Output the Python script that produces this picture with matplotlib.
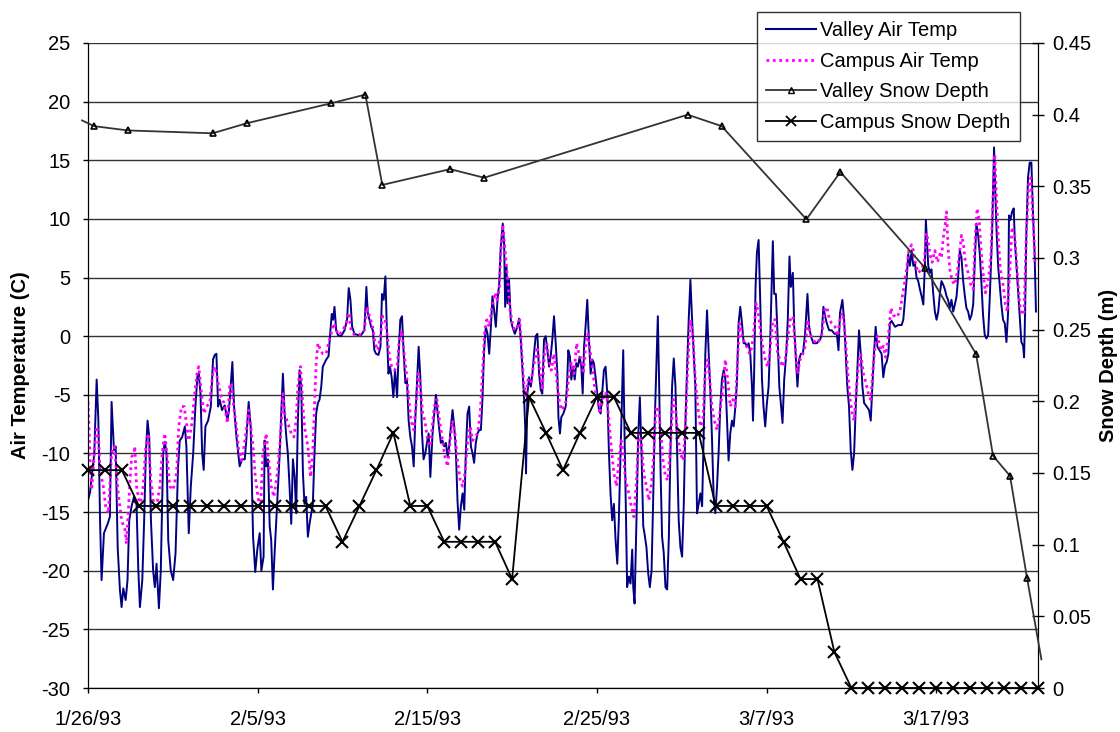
import datetime as dt
import matplotlib
matplotlib.use("Agg")
import matplotlib.pyplot as plt
import matplotlib.dates as mdates
from matplotlib.lines import Line2D
import numpy as np

plt.rcParams['font.family'] = ['Liberation Sans', 'DejaVu Sans']
plt.rcParams['axes.unicode_minus'] = False

# days since 1/26/93, hourly-ish record read as turning points
valley_day = [
    0.00, 0.12, 0.37, 0.51, 0.61, 0.71, 0.80, 0.94, 1.16, 1.29, 1.39, 1.53, 1.63, 1.75, 1.88, 1.98,
    2.08, 2.22, 2.33, 2.43, 2.57, 2.71, 2.86, 2.96, 3.06, 3.20, 3.31, 3.41, 3.51, 3.61, 3.71, 3.84,
    3.94, 4.04, 4.18, 4.29, 4.43, 4.53, 4.63, 4.73, 4.88, 5.02, 5.16, 5.31, 5.41, 5.55, 5.71, 5.80,
    5.94, 6.06, 6.20, 6.33, 6.45, 6.53, 6.63, 6.73, 6.82, 6.92, 7.08, 7.24, 7.37, 7.47, 7.57, 7.67,
    7.76, 7.90, 8.06, 8.22, 8.31, 8.41, 8.51, 8.61, 8.75, 8.94, 9.08, 9.24, 9.33, 9.47, 9.59, 9.73,
    9.86, 9.98, 10.12, 10.22, 10.35, 10.41, 10.51, 10.61, 10.71, 10.80, 10.90, 11.00, 11.16, 11.30,
    11.39, 11.49, 11.59, 11.69, 11.78, 11.88, 11.98, 12.08, 12.18, 12.27, 12.37, 12.47, 12.57, 12.67,
    12.76, 12.86, 12.96, 13.06, 13.16, 13.25, 13.35, 13.45, 13.55, 13.65, 13.75, 13.84, 14.04, 14.18,
    14.29, 14.37, 14.45, 14.53, 14.63, 14.73, 14.92, 15.12, 15.27, 15.37, 15.47, 15.57, 15.71, 15.90,
    16.10, 16.29, 16.41, 16.49, 16.59, 16.69, 16.79, 16.88, 16.98, 17.12, 17.24, 17.33, 17.43, 17.53,
    17.63, 17.71, 17.80, 17.90, 18.00, 18.10, 18.22, 18.31, 18.41, 18.51, 18.61, 18.71, 18.80, 18.90,
    19.00, 19.10, 19.20, 19.29, 19.39, 19.49, 19.59, 19.69, 19.78, 19.88, 19.98, 20.08, 20.18, 20.31,
    20.51, 20.61, 20.71, 20.80, 20.90, 21.00, 21.10, 21.20, 21.29, 21.39, 21.49, 21.59, 21.69, 21.78,
    21.88, 21.98, 22.08, 22.18, 22.27, 22.37, 22.47, 22.57, 22.67, 22.76, 22.86, 22.96, 23.06, 23.16,
    23.25, 23.35, 23.45, 23.55, 23.65, 23.75, 23.84, 23.94, 24.04, 24.14, 24.24, 24.33, 24.45, 24.53,
    24.59, 24.67, 24.73, 24.82, 24.92, 25.02, 25.16, 25.31, 25.41, 25.51, 25.61, 25.71, 25.77, 25.82,
    25.90, 26.00, 26.10, 26.20, 26.29, 26.39, 26.49, 26.59, 26.69, 26.78, 26.88, 26.98, 27.08, 27.18,
    27.27, 27.37, 27.47, 27.57, 27.67, 27.73, 27.82, 27.90, 28.02, 28.16, 28.25, 28.31, 28.41, 28.49,
    28.59, 28.69, 28.78, 28.88, 28.98, 29.08, 29.16, 29.24, 29.33, 29.43, 29.53, 29.63, 29.73, 29.82,
    29.92, 30.02, 30.12, 30.22, 30.41, 30.51, 30.61, 30.71, 30.80, 30.90, 31.00, 31.10, 31.20, 31.29,
    31.39, 31.49, 31.55, 31.63, 31.71, 31.78, 31.88, 31.98, 32.08, 32.14, 32.22, 32.33, 32.43, 32.53,
    32.63, 32.73, 32.80, 32.92, 33.02, 33.12, 33.22, 33.31, 33.41, 33.51, 33.59, 33.67, 33.75, 33.84,
    33.94, 34.04, 34.14, 34.24, 34.33, 34.43, 34.53, 34.63, 34.73, 34.82, 34.92, 35.02, 35.12, 35.22,
    35.31, 35.41, 35.51, 35.61, 35.71, 35.80, 35.90, 36.00, 36.10, 36.20, 36.29, 36.39, 36.49, 36.59,
    36.69, 36.78, 36.88, 36.98, 37.08, 37.18, 37.27, 37.37, 37.47, 37.57, 37.67, 37.76, 37.86, 37.96,
    38.06, 38.16, 38.25, 38.35, 38.45, 38.55, 38.65, 38.75, 38.84, 38.94, 39.04, 39.14, 39.20, 39.27,
    39.35, 39.43, 39.53, 39.63, 39.73, 39.82, 39.92, 40.02, 40.12, 40.22, 40.31, 40.37, 40.45, 40.55,
    40.65, 40.75, 40.84, 40.94, 41.04, 41.16, 41.25, 41.35, 41.43, 41.55, 41.63, 41.73, 41.82, 41.92,
    42.02, 42.14, 42.27, 42.41, 42.51, 42.61, 42.76, 42.96, 43.16, 43.25, 43.35, 43.45, 43.55, 43.69,
    43.84, 44.00, 44.14, 44.24, 44.33, 44.47, 44.57, 44.67, 44.76, 44.86, 44.96, 45.06, 45.16, 45.25,
    45.35, 45.45, 45.55, 45.65, 45.75, 45.90, 46.04, 46.14, 46.24, 46.33, 46.43, 46.53, 46.78, 46.88,
    46.98, 47.08, 47.18, 47.27, 47.37, 47.57, 47.76, 47.96, 48.06, 48.16, 48.25, 48.35, 48.45, 48.55,
    48.65, 48.74, 48.84, 48.94, 49.04, 49.14, 49.24, 49.33, 49.39, 49.47, 49.53, 49.63, 49.72, 49.82,
    49.92, 50.02, 50.12, 50.22, 50.31, 50.41, 50.51, 50.61, 50.70, 50.80, 50.90, 51.00, 51.10, 51.20,
    51.29, 51.39, 51.49, 51.59, 51.69, 51.78, 51.88, 51.98, 52.08, 52.18, 52.27, 52.37, 52.47, 52.57,
    52.67, 52.76, 52.86, 52.96, 53.06, 53.16, 53.29, 53.41, 53.49, 53.57, 53.65, 53.74, 53.84, 53.94,
    54.04, 54.14, 54.24, 54.29, 54.37, 54.47, 54.57, 54.63, 54.73, 54.82, 54.92, 55.02, 55.12, 55.18,
    55.24, 55.31, 55.41, 55.51, 55.61, 55.71, 55.80, 55.88,
]
valley_temp = [
    -14.0, -13.3, -10.0, -3.7, -7.1, -15.7, -20.8, -16.8, -16.0, -15.4, -5.6, -9.7, -9.4, -18.0, -21.6, -23.1,
    -21.5, -22.5, -20.8, -15.7, -14.5, -13.7, -14.3, -19.7, -23.1, -20.8, -15.7, -10.0, -7.2, -8.6, -15.7, -20.0,
    -21.4, -19.4, -23.2, -20.0, -10.0, -9.0, -10.0, -17.4, -20.0, -20.8, -18.5, -11.1, -8.9, -8.6, -7.7, -9.4,
    -16.8, -12.8, -10.0, -6.0, -3.4, -3.2, -4.9, -10.0, -11.4, -7.7, -7.2, -6.0, -2.0, -1.6, -1.5, -6.0,
    -5.4, -6.3, -5.9, -7.2, -6.3, -4.3, -2.2, -6.0, -8.6, -11.1, -10.5, -10.5, -8.9, -5.6, -7.7, -17.1,
    -20.1, -18.2, -16.8, -20.0, -18.8, -8.9, -11.1, -10.5, -16.2, -17.4, -21.6, -18.5, -14.0, -10.0,
    -6.6, -3.2, -6.6, -8.6, -10.0, -12.8, -16.0, -10.5, -12.0, -15.1, -7.2, -2.9, -4.3, -11.7,
    -14.3, -13.7, -17.1, -16.0, -15.1, -14.5, -10.0, -6.6, -5.7, -5.4, -4.3, -2.6, -2.0, -1.7,
    0.5, 1.9, 1.4, 2.5, 0.5, 0.1, 0.0, 0.5, 1.4, 4.1, 3.1, 0.8, 0.2, 0.1,
    0.1, 0.5, 4.2, 2.0, 1.4, 0.8, 0.5, -1.2, -1.5, -1.6, -0.9, 3.6, 3.1, 5.1,
    0.0, -3.2, -2.6, -3.5, -5.2, -2.9, -5.2, -1.5, 1.4, 1.7, -1.5, -4.0, -3.7, -7.2,
    -8.6, -9.4, -11.1, -7.2, -4.0, -0.9, -3.5, -8.3, -10.5, -10.0, -9.1, -8.3, -12.0, -8.3,
    -5.0, -6.6, -8.0, -9.1, -8.9, -9.4, -9.1, -10.3, -9.4, -7.7, -6.3, -7.7, -10.0, -14.0,
    -16.5, -14.5, -13.4, -14.8, -10.0, -6.6, -6.0, -9.4, -10.0, -10.8, -9.1, -8.3, -8.0, -8.0,
    -5.4, -1.2, 0.8, 0.2, -1.5, 0.8, 3.4, 2.2, 0.8, 3.1, 4.5, 7.6, 9.6, 7.9,
    2.5, 5.9, 2.8, 4.8, 1.4, 0.8, 0.2, 0.8, 1.5, -0.3, -2.9, -5.4, -7.7, -11.7,
    -4.9, -3.5, -4.3, -3.2, -1.5, 0.0, 0.2, -3.2, -4.6, -4.9, -0.3, 0.0, -1.2, -2.6,
    -1.75, -0.3, 1.7, -0.6, -3.2, -6.9, -8.3, -6.9, -6.6, -6.0, -3.7, -1.2, -1.75, -3.7,
    -2.6, -3.7, -2.3, -2.6, -1.75, -2.6, -4.9, -0.9, 0.8, 3.1, -0.3, -3.2, -2.0, -2.3,
    -3.5, -4.9, -6.3, -6.6, -2.9, -2.6, -4.9, -10.0, -13.4, -15.7, -14.3, -17.4, -19.4, -15.7,
    -10.0, -4.3, -1.2, -8.6, -15.1, -21.4, -20.5, -21.1, -18.2, -21.4, -22.8, -15.7, -8.6, -5.2,
    -10.0, -16.2, -16.8, -18.0, -20.2, -21.4, -20.0, -14.3, -7.2, -2.3, 1.7, -4.3, -11.4, -17.1,
    -18.5, -21.4, -21.6, -17.1, -10.0, -4.3, -1.9, -4.3, -10.0, -15.7, -18.0, -18.8, -14.3, -7.2,
    -2.9, 1.4, 4.8, 1.4, -1.5, -4.3, -15.1, -14.3, -13.4, -14.5, -8.6, -1.5, 2.2, -1.5,
    -4.9, -8.6, -13.7, -15.1, -12.8, -9.7, -6.0, -3.7, -2.9, -3.7, -7.2, -10.6, -8.3, -7.2,
    -7.7, -6.0, -4.0, 1.1, 2.5, 1.1, -0.6, -0.6, -0.9, -0.6, -1.5, -4.3, -7.2, -2.9,
    4.2, 7.1, 8.2, 2.8, -3.7, -6.0, -7.7, -5.7, -4.3, 0.0, 4.8, 8.1, 3.6, 3.6,
    0.0, -4.3, -5.7, -7.4, -3.7, -1.5, 1.4, 6.8, 4.2, 5.4, 0.8, -2.0, -4.3, -2.0,
    -1.5, -1.5, 0.2, 3.6, 0.8, 0.0, -0.6, -0.6, -0.3, 0.2, 2.5, 1.7, 1.1, 0.5,
    0.5, 0.2, 0.2, -1.2, 2.0, 3.1, 1.4, -1.5, -4.3, -6.0, -9.7, -11.4, -10.0, -6.3,
    -2.9, 0.5, -1.5, -4.3, -5.7, -6.0, -6.3, -7.2, -4.3, -1.5, 0.8, -0.9, -1.5, -3.5,
    -2.5, -2.2, -1.5, 1.1, 1.3, 0.8, 0.95, 0.95, 1.4, 3.1, 4.7, 7.0, 6.0, 7.3,
    6.0, 6.3, 5.0, 4.7, 4.0, 3.4, 2.7, 6.0, 9.9, 7.6, 6.0, 5.4, 5.7, 3.7,
    2.1, 1.4, 2.1, 3.7, 4.7, 4.4, 4.0, 3.4, 3.1, 2.4, 3.1, 2.1, 2.7, 3.4,
    5.0, 7.3, 6.7, 4.7, 3.4, 2.4, 2.1, 1.4, 1.8, 2.7, 6.3, 9.6, 8.6, 7.0,
    4.4, 1.8, 0.1, -0.2, 0.1, 3.4, 8.6, 16.1, 11.9, 8.6, 6.0, 4.4, 2.7, 1.4,
    1.1, -0.5, 2.1, 10.3, 9.9, 10.6, 10.9, 8.3, 6.0, 4.0, 1.8, -0.5, -0.8, -1.8,
    2.1, 8.6, 13.5, 14.8, 14.8, 10.3, 7.0, 2.1,
]

campus_day = [
    0.00, 0.05, 0.12, 0.22, 0.37, 0.51, 0.61, 0.71, 0.90, 1.04, 1.20, 1.39, 1.55, 1.69, 1.78, 1.98,
    2.18, 2.27, 2.37, 2.47, 2.57, 2.71, 2.76, 2.86, 3.06, 3.25, 3.41, 3.55, 3.71, 3.84, 4.04, 4.24,
    4.37, 4.53, 4.69, 4.82, 5.02, 5.22, 5.35, 5.51, 5.67, 5.80, 5.94, 6.10, 6.29, 6.45, 6.53, 6.69,
    6.84, 6.98, 7.18, 7.37, 7.51, 7.67, 7.86, 8.02, 8.22, 8.35, 8.45, 8.59, 8.75, 8.88, 9.04, 9.20,
    9.33, 9.47, 9.59, 9.73, 9.86, 10.02, 10.16, 10.31, 10.51, 10.61, 10.80, 10.96, 11.16, 11.35,
    11.49, 11.59, 11.78, 11.98, 12.14, 12.27, 12.37, 12.53, 12.67, 12.76, 12.96, 13.12, 13.25, 13.35,
    13.45, 13.55, 13.71, 13.84, 14.04, 14.18, 14.33, 14.49, 14.63, 14.82, 15.02, 15.22, 15.37, 15.51,
    15.71, 16.00, 16.29, 16.45, 16.59, 16.78, 16.92, 17.08, 17.24, 17.37, 17.51, 17.63, 17.77, 17.90,
    18.06, 18.22, 18.35, 18.49, 18.61, 18.75, 18.88, 19.04, 19.20, 19.33, 19.47, 19.59, 19.73, 19.86,
    20.02, 20.18, 20.41, 20.57, 20.71, 20.90, 21.04, 21.20, 21.35, 21.49, 21.63, 21.78, 21.94, 22.08,
    22.22, 22.37, 22.53, 22.67, 22.80, 22.96, 23.12, 23.25, 23.39, 23.51, 23.65, 23.75, 23.90, 24.00,
    24.10, 24.24, 24.33, 24.45, 24.57, 24.67, 24.77, 24.88, 25.02, 25.16, 25.31, 25.45, 25.55, 25.67,
    25.80, 25.94, 26.10, 26.25, 26.39, 26.49, 26.63, 26.78, 26.92, 27.04, 27.18, 27.31, 27.47, 27.63,
    27.77, 27.90, 28.06, 28.22, 28.35, 28.49, 28.65, 28.80, 28.94, 29.08, 29.20, 29.33, 29.47, 29.59,
    29.73, 29.86, 30.02, 30.18, 30.41, 30.57, 30.71, 30.84, 31.00, 31.16, 31.29, 31.43, 31.55, 31.69,
    31.88, 32.02, 32.18, 32.33, 32.47, 32.61, 32.76, 32.92, 33.06, 33.20, 33.35, 33.47, 33.59, 33.75,
    33.90, 34.04, 34.18, 34.33, 34.49, 34.63, 34.77, 34.92, 35.08, 35.22, 35.35, 35.51, 35.65, 35.80,
    35.94, 36.10, 36.25, 36.39, 36.53, 36.65, 36.78, 36.92, 37.08, 37.24, 37.43, 37.57, 37.71, 37.86,
    38.02, 38.16, 38.29, 38.41, 38.55, 38.69, 38.84, 39.00, 39.14, 39.27, 39.39, 39.49, 39.63, 39.78,
    39.92, 40.06, 40.18, 40.37, 40.51, 40.65, 40.80, 40.94, 41.10, 41.24, 41.39, 41.55, 41.69, 41.82,
    41.98, 42.14, 42.27, 42.43, 42.57, 42.73, 42.92, 43.12, 43.27, 43.41, 43.55, 43.71, 43.84, 44.04,
    44.18, 44.33, 44.47, 44.63, 44.76, 44.92, 45.06, 45.16, 45.27, 45.41, 45.55, 45.71, 45.86, 46.00,
    46.14, 46.25, 46.39, 46.53, 46.74, 46.88, 47.02, 47.18, 47.33, 47.47, 47.67, 47.86, 48.00, 48.12,
    48.25, 48.39, 48.55, 48.65, 48.78, 48.94, 49.14, 49.29, 49.43, 49.53, 49.63, 49.76, 49.92, 50.08,
    50.22, 50.31, 50.41, 50.51, 50.61, 50.70, 50.80, 50.94, 51.10, 51.24, 51.39, 51.49, 51.59, 51.72,
    51.88, 52.04, 52.18, 52.27, 52.41, 52.53, 52.63, 52.76, 52.90, 53.06, 53.22, 53.33, 53.45, 53.55,
    53.65, 53.78, 53.94, 54.08, 54.20, 54.33, 54.47, 54.63, 54.78, 54.92, 55.06, 55.18, 55.31, 55.45,
    55.57, 55.71, 55.84,
]
campus_temp = [
    -5.6, -7.2, -10.6, -13.1, -10.0, -7.7, -8.3, -11.4, -12.8, -14.5, -15.1, -10.0, -9.4, -11.7, -13.4, -15.7,
    -16.5, -17.7, -15.1, -12.5, -10.3, -10.0, -9.4, -12.8, -14.5, -12.8, -9.4, -8.3, -12.3, -14.0, -14.5, -12.8,
    -10.0, -8.3, -10.6, -12.8, -13.1, -11.7, -7.7, -6.0, -6.0, -7.4, -8.9, -7.7, -4.9, -2.9, -2.6, -4.9,
    -6.6, -6.0, -5.7, -2.9, -2.6, -4.0, -5.2, -5.7, -7.4, -4.3, -4.0, -6.0, -7.7, -9.7, -10.6, -9.4,
    -8.0, -6.3, -7.7, -9.4, -12.0, -13.7, -14.8, -10.0, -8.3, -10.0, -12.8, -13.7, -11.7, -8.6,
    -4.9, -6.6, -7.4, -8.3, -8.6, -7.2, -4.3, -2.6, -6.0, -7.7, -9.4, -12.0, -10.0, -6.0,
    -2.3, -0.6, -1.2, -1.5, -1.5, -0.6, 0.2, 1.1, 0.5, 0.1, 0.5, 1.1, 2.0, 0.5,
    0.1, 0.1, 0.5, 2.5, 1.7, 0.8, -0.6, -1.2, 0.0, 1.7, 1.4, 0.2, -1.75, -2.6,
    -2.9, -2.6, -0.3, 0.5, -1.2, -2.9, -4.9, -7.2, -8.0, -6.0, -3.2, -4.3, -6.6, -7.2,
    -8.9, -9.4, -6.0, -5.4, -7.1, -8.9, -10.3, -11.1, -8.9, -7.2, -8.3, -10.6, -12.3, -12.8,
    -11.7, -9.1, -7.7, -8.9, -8.6, -8.3, -6.6, -3.2, 0.5, 1.4, 0.8, 1.9, 3.1, 3.7,
    3.1, 3.9, 7.1, 9.5, 7.6, 5.9, 4.2, 2.2, 1.1, 0.5, 0.8, 1.4, -0.9, -3.7,
    -5.2, -3.7, -4.0, -2.6, -1.75, -0.9, -2.6, -4.6, -1.2, -0.6, -2.0, -2.9, -1.5, -3.7,
    -5.4, -6.3, -6.0, -5.4, -3.2, -2.3, -3.2, -0.6, -1.5, -2.0, -3.2, -0.9, 0.2, -1.2,
    -2.6, -4.3, -5.4, -6.6, -4.9, -4.9, -7.2, -9.4, -11.7, -12.8, -10.6, -8.9, -10.0, -12.3,
    -13.4, -14.5, -15.4, -12.3, -8.3, -8.9, -11.7, -12.8, -14.0, -12.8, -10.0, -6.3, -6.0, -7.7,
    -10.6, -12.0, -12.3, -9.4, -5.4, -6.0, -8.6, -10.0, -10.6, -7.7, -2.6, 1.4, 0.2, -3.7,
    -6.0, -7.7, -7.2, -2.9, -2.0, -3.7, -6.0, -7.2, -8.0, -6.6, -4.3, -2.0, -3.7, -6.0,
    -5.4, -6.0, -2.0, 1.1, 0.2, -0.6, -0.9, -1.5, -0.9, 0.8, 2.8, 2.2, 0.5, -0.9,
    -2.0, -2.6, -1.5, 1.4, 1.4, -1.5, -2.0, -2.6, -2.0, -0.3, 1.4, 1.7, -0.9, -3.2,
    -2.0, -1.5, -0.9, 1.4, 0.2, -0.3, -0.6, -0.3, 0.2, 2.2, 2.5, 1.4, 1.1, 0.8,
    0.0, 1.4, 2.0, 0.2, -2.6, -5.4, -6.6, -7.2, -4.9, -2.6, -1.5, -3.2, -4.0, -4.9,
    -5.4, -3.2, -0.9, 0.0, -1.2, -0.85, -1.8, 0.1, 2.4, 1.8, 1.6, 2.1, 3.4, 4.4,
    5.7, 7.3, 7.8, 7.3, 6.2, 5.4, 5.7, 6.3, 8.8, 8.0, 7.0, 6.3, 7.3, 6.3,
    7.0, 6.7, 8.3, 9.3, 10.6, 7.6, 5.7, 4.7, 4.4, 5.4, 7.3, 8.6, 8.0, 6.3,
    5.4, 4.4, 4.0, 7.6, 10.9, 9.9, 7.6, 5.4, 3.7, 4.7, 6.7, 11.2, 15.5, 11.9,
    8.6, 5.7, 4.4, 2.7, 2.1, 5.4, 9.3, 8.6, 5.4, 2.7, 1.8, 2.1, 8.6, 12.9,
    13.5, 9.9, 6.0,
]

# snow depth (m); valley readings are irregular, campus readings daily
valley_snow_day = [-0.35, 0.35, 2.35, 7.35, 9.35, 14.35, 16.35, 17.35, 21.35, 23.35,
                   35.35, 37.35, 42.35, 44.35, 49.35, 52.35, 53.35, 54.35, 55.35, 56.2]
valley_snow = [0.396, 0.392, 0.389, 0.387, 0.394, 0.408, 0.414, 0.351, 0.362, 0.356,
               0.400, 0.392, 0.327, 0.360, 0.293, 0.233, 0.162, 0.148, 0.077, 0.020]

campus_snow_day = list(range(57))
campus_snow = [0.152, 0.152, 0.152, 0.127, 0.127, 0.127, 0.127, 0.127, 0.127, 0.127,
               0.127, 0.127, 0.127, 0.127, 0.127, 0.102, 0.127, 0.152, 0.178, 0.127,
               0.127, 0.102, 0.102, 0.102, 0.102, 0.076, 0.203, 0.178, 0.152, 0.178,
               0.203, 0.203, 0.178, 0.178, 0.178, 0.178, 0.178, 0.127, 0.127, 0.127,
               0.127, 0.102, 0.076, 0.076, 0.025, 0.0, 0.0, 0.0, 0.0, 0.0,
               0.0, 0.0, 0.0, 0.0, 0.0, 0.0, 0.0]

tick_dates = ['1993-01-26', '1993-02-05', '1993-02-15', '1993-02-25', '1993-03-07', '1993-03-17']

start = mdates.date2num(dt.datetime(1993, 1, 26))
FS = 14.5


def to_x(days):
    return start + np.asarray(days, dtype=float)


fig = plt.figure(figsize=(11.2, 7.32), dpi=100)
ax = fig.add_axes([88 / 1120, 44 / 732, 950 / 1120, 645 / 732])
ax2 = ax.twinx()

# temperatures on the left axis
ax.plot(to_x(valley_day), valley_temp, color='#000080', lw=1.4, zorder=3)
ax.plot(to_x(campus_day), campus_temp, color='#ff00ff', lw=2.0,
        linestyle=(0, (1.0, 1.3)), zorder=3)

ax.set_xlim(start, start + 56)
ax.set_ylim(-30, 25)
ax.set_yticks(np.arange(-30, 26, 5))
ax.yaxis.grid(True, color='#333333', lw=1.0)
ax.set_axisbelow(True)
ax.set_xticks([mdates.date2num(dt.datetime.fromisoformat(d)) for d in tick_dates])
ax.xaxis.set_major_formatter(mdates.DateFormatter('%-m/%-d/%y'))
ax.tick_params(axis='both', labelsize=FS, direction='out', length=3.6, width=1)
ax.tick_params(axis='y', pad=9)
ax.tick_params(axis='x', pad=12)
ax.set_ylabel('Air Temperature (C)', fontsize=FS, fontweight='bold', labelpad=8)
ax.spines['top'].set_visible(False)

# snow depth on the right axis
ax2.plot(to_x(valley_snow_day), valley_snow, color='#333333', lw=1.3,
         marker='^', ms=5, mfc='none', mec='black', mew=1.2,
         markevery=list(range(1, len(valley_snow) - 1)), clip_on=False, zorder=4)
ax2.plot(to_x(campus_snow_day), campus_snow, color='black', lw=1.3,
         marker='x', ms=9, mew=1.5, clip_on=False, zorder=4)
ax2.set_ylim(0, 0.45)
ax2.set_yticks(np.arange(0, 0.451, 0.05))
ax2.set_yticklabels(['0', '0.05', '0.1', '0.15', '0.2', '0.25', '0.3', '0.35', '0.4', '0.45'])
ax2.tick_params(axis='y', labelsize=FS, direction='inout', length=9, width=1, pad=6)
ax2.set_ylabel('Snow Depth (m)', fontsize=FS, fontweight='bold', labelpad=5)
ax2.spines['top'].set_visible(False)
ax2.set_xlim(start, start + 56)

handles = [
    Line2D([], [], color='#000080', lw=1.5),
    Line2D([], [], color='#ff00ff', lw=2.0, linestyle=(0, (1.0, 1.3))),
    Line2D([], [], color='#333333', lw=1.3, marker='^', ms=4, mfc='none', mec='black'),
    Line2D([], [], color='black', lw=1.3, marker='x', ms=7, mew=1.3),
]
labels = ['Valley Air Temp', 'Campus Air Temp', 'Valley Snow Depth', 'Campus Snow Depth']
leg = fig.legend(handles, labels, loc='upper left', bbox_to_anchor=(757 / 1120, 1 - 12 / 732),
                 fontsize=FS, frameon=True, fancybox=False, edgecolor='black',
                 handlelength=2.5, handletextpad=0.2, borderpad=0.45, labelspacing=0.58,
                 borderaxespad=0)
leg.get_frame().set_linewidth(1.0)
leg.set_zorder(10)

fig.savefig('out.png', dpi=100)
